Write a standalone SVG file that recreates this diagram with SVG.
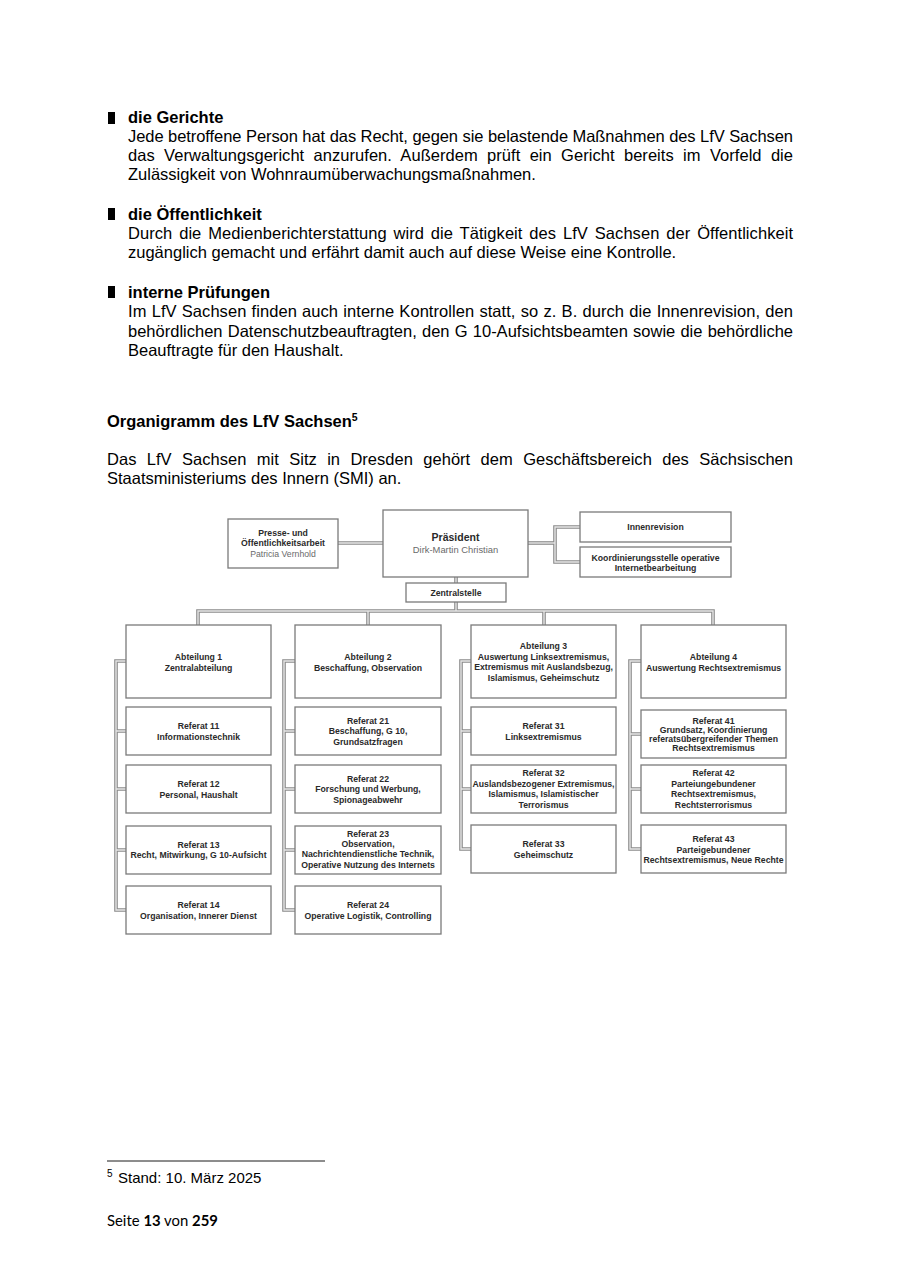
<svg xmlns="http://www.w3.org/2000/svg" width="900" height="1273" viewBox="0 0 900 1273">
<style>
.bg{fill:#fff}
.b{font-family:"Liberation Sans",Arial,sans-serif;font-size:16.5px;fill:#000}
.h{font-weight:bold}
.bul{fill:#000}
.bx{fill:#fff;stroke:#7a7a7a;stroke-width:1.3}
.t{font-family:"Liberation Sans",Arial,sans-serif;font-size:8.7px;font-weight:bold;fill:#2a2a2a;text-anchor:middle}
.g{font-weight:normal;fill:#6a6a6a}
.co{fill:none;stroke:#8a8a8a;stroke-width:3.6}
.ci{fill:none;stroke:#e6e6e6;stroke-width:1.4}
.ft{font-family:Lato,"Open Sans",sans-serif;font-size:15.5px;fill:#000}
</style>
<rect class="bg" x="0" y="0" width="900" height="1273"/>

<g id="text">
<rect class="bul" x="108" y="112" width="7" height="12"/>
<text class="b h" x="128" y="123">die Gerichte</text>
<text class="b" x="128" y="141.5" textLength="665" lengthAdjust="spacing">Jede betroffene Person hat das Recht, gegen sie belastende Maßnahmen des LfV Sachsen</text>
<text class="b" x="128" y="161" style="word-spacing:4.7px" textLength="665" lengthAdjust="spacing">das Verwaltungsgericht anzurufen. Außerdem prüft ein Gericht bereits im Vorfeld die</text>
<text class="b" x="128" y="180">Zulässigkeit von Wohnraumüberwachungsmaßnahmen.</text>

<rect class="bul" x="108" y="208" width="7" height="12"/>
<text class="b h" x="128" y="219.5">die Öffentlichkeit</text>
<text class="b" x="128" y="239" style="word-spacing:2.2px" textLength="665" lengthAdjust="spacing">Durch die Medienberichterstattung wird die Tätigkeit des LfV Sachsen der Öffentlichkeit</text>
<text class="b" x="128" y="258">zugänglich gemacht und erfährt damit auch auf diese Weise eine Kontrolle.</text>

<rect class="bul" x="108" y="286" width="7" height="12"/>
<text class="b h" x="128" y="297.5">interne Prüfungen</text>
<text class="b" x="128" y="317" style="word-spacing:0.6px" textLength="665" lengthAdjust="spacing">Im LfV Sachsen finden auch interne Kontrollen statt, so z. B. durch die Innenrevision, den</text>
<text class="b" x="128" y="336.5" style="word-spacing:0.6px" textLength="665" lengthAdjust="spacing">behördlichen Datenschutzbeauftragten, den G 10-Aufsichtsbeamten sowie die behördliche</text>
<text class="b" x="128" y="356">Beauftragte für den Haushalt.</text>

<text class="b h" x="107" y="426.5">Organigramm des LfV Sachsen<tspan style="font-size:10.5px" dy="-6">5</tspan></text>
<text class="b" x="107" y="464.5" style="word-spacing:5.8px" textLength="686" lengthAdjust="spacing">Das LfV Sachsen mit Sitz in Dresden gehört dem Geschäftsbereich des Sächsischen</text>
<text class="b" x="107" y="483.5">Staatsministeriums des Innern (SMI) an.</text>

<line x1="107" y1="1161" x2="325" y2="1161" stroke="#000" stroke-width="0.9"/>
<text class="b" x="107" y="1177" style="font-size:10px">5</text>
<text class="b" x="118" y="1183" style="font-size:15px">Stand: 10. März 2025</text>
<text class="ft" x="107" y="1226" textLength="111" lengthAdjust="spacingAndGlyphs">Seite <tspan font-weight="bold">13</tspan> von <tspan font-weight="bold">259</tspan></text>
</g>

<g id="connectors">
<g class="co">
<path d="M338,543 H383"/>
<path d="M528,543 H555"/>
<path d="M580,527 H555 V562 H580"/>
<path d="M456,577 V583"/>
<path d="M456,602 V611"/>
<path d="M198,625 V611 H713 V625"/>
<path d="M368,611 V625"/>
<path d="M544,611 V625"/>
<path d="M126,661 H116 V910 H126 M116,731 H126 M116,789 H126 M116,850 H126"/>
<path d="M295,661 H284 V910 H295 M284,731 H295 M284,789 H295 M284,850 H295"/>
<path d="M471,661 H461 V849 H471 M461,731 H471 M461,789 H471"/>
<path d="M641,661 H630 V849 H641 M630,734 H641 M630,789 H641"/>
</g>
<g class="ci">
<path d="M338,543 H383"/>
<path d="M528,543 H555"/>
<path d="M580,527 H555 V562 H580"/>
<path d="M456,577 V583"/>
<path d="M456,602 V611"/>
<path d="M198,625 V611 H713 V625"/>
<path d="M368,611 V625"/>
<path d="M544,611 V625"/>
<path d="M126,661 H116 V910 H126 M116,731 H126 M116,789 H126 M116,850 H126"/>
<path d="M295,661 H284 V910 H295 M284,731 H295 M284,789 H295 M284,850 H295"/>
<path d="M471,661 H461 V849 H471 M461,731 H471 M461,789 H471"/>
<path d="M641,661 H630 V849 H641 M630,734 H641 M630,789 H641"/>
</g>
</g>

<g id="presse"><rect class="bx" x="228" y="519" width="110" height="49"/>
<text class="t" x="283" y="536">Presse- und</text>
<text class="t" x="283" y="546">Öffentlichkeitsarbeit</text>
<text class="t g" x="283" y="557">Patricia Vernhold</text></g>

<g id="praesident"><rect class="bx" x="383" y="510" width="145" height="67"/>
<text class="t" x="455.5" y="540.5" style="font-size:10.5px">Präsident</text>
<text class="t g" x="455.5" y="553" style="font-size:9.4px">Dirk-Martin Christian</text></g>

<g id="innenrevision"><rect class="bx" x="580" y="512" width="151" height="30"/>
<text class="t" x="655.5" y="530">Innenrevision</text></g>

<g id="koordinierung"><rect class="bx" x="580" y="547" width="151" height="30"/>
<text class="t" x="655.5" y="561">Koordinierungsstelle operative</text>
<text class="t" x="655.5" y="570.5">Internetbearbeitung</text></g>

<g id="zentralstelle"><rect class="bx" x="406" y="583" width="100" height="19"/>
<text class="t" x="456" y="595.5">Zentralstelle</text></g>

<g id="abt1"><rect class="bx" x="126" y="625" width="145" height="73"/>
<text class="t" x="198.5" y="660">Abteilung 1</text>
<text class="t" x="198.5" y="670.5">Zentralabteilung</text></g>

<g id="abt2"><rect class="bx" x="295" y="625" width="146" height="73"/>
<text class="t" x="368" y="660">Abteilung 2</text>
<text class="t" x="368" y="670.5">Beschaffung, Observation</text></g>

<g id="abt3"><rect class="bx" x="471" y="625" width="145" height="73"/>
<text class="t" x="543.5" y="649">Abteilung 3</text>
<text class="t" x="543.5" y="659.5">Auswertung Linksextremismus,</text>
<text class="t" x="543.5" y="670">Extremismus mit Auslandsbezug,</text>
<text class="t" x="543.5" y="680.5">Islamismus, Geheimschutz</text></g>

<g id="abt4"><rect class="bx" x="641" y="625" width="145" height="73"/>
<text class="t" x="713.5" y="660">Abteilung 4</text>
<text class="t" x="713.5" y="670.5">Auswertung Rechtsextremismus</text></g>

<g id="ref11"><rect class="bx" x="126" y="707" width="145" height="48"/>
<text class="t" x="198.5" y="729">Referat 11</text>
<text class="t" x="198.5" y="739.5">Informationstechnik</text></g>

<g id="ref21"><rect class="bx" x="295" y="707" width="146" height="48"/>
<text class="t" x="368" y="723.5">Referat 21</text>
<text class="t" x="368" y="734">Beschaffung, G 10,</text>
<text class="t" x="368" y="744.5">Grundsatzfragen</text></g>

<g id="ref31"><rect class="bx" x="471" y="707" width="145" height="48"/>
<text class="t" x="543.5" y="729">Referat 31</text>
<text class="t" x="543.5" y="739.5">Linksextremismus</text></g>

<g id="ref41"><rect class="bx" x="641" y="710" width="145" height="48"/>
<text class="t" x="713.5" y="724">Referat 41</text>
<text class="t" x="713.5" y="733">Grundsatz, Koordinierung</text>
<text class="t" x="713.5" y="742">referatsübergreifender Themen</text>
<text class="t" x="713.5" y="751">Rechtsextremismus</text></g>

<g id="ref12"><rect class="bx" x="126" y="765" width="145" height="48"/>
<text class="t" x="198.5" y="787">Referat 12</text>
<text class="t" x="198.5" y="797.5">Personal, Haushalt</text></g>

<g id="ref22"><rect class="bx" x="295" y="765" width="146" height="48"/>
<text class="t" x="368" y="781.5">Referat 22</text>
<text class="t" x="368" y="792">Forschung und Werbung,</text>
<text class="t" x="368" y="802.5">Spionageabwehr</text></g>

<g id="ref32"><rect class="bx" x="471" y="765" width="145" height="48"/>
<text class="t" x="543.5" y="776">Referat 32</text>
<text class="t" x="543.5" y="786.5">Auslandsbezogener Extremismus,</text>
<text class="t" x="543.5" y="797">Islamismus, Islamistischer</text>
<text class="t" x="543.5" y="807.5">Terrorismus</text></g>

<g id="ref42"><rect class="bx" x="641" y="765" width="145" height="48"/>
<text class="t" x="713.5" y="776">Referat 42</text>
<text class="t" x="713.5" y="786.5">Parteiungebundener</text>
<text class="t" x="713.5" y="797">Rechtsextremismus,</text>
<text class="t" x="713.5" y="807.5">Rechtsterrorismus</text></g>

<g id="ref13"><rect class="bx" x="126" y="826" width="145" height="48"/>
<text class="t" x="198.5" y="847.5">Referat 13</text>
<text class="t" x="198.5" y="858">Recht, Mitwirkung, G 10-Aufsicht</text></g>

<g id="ref23"><rect class="bx" x="295" y="826" width="146" height="48"/>
<text class="t" x="368" y="836.5">Referat 23</text>
<text class="t" x="368" y="846.5">Observation,</text>
<text class="t" x="368" y="857">Nachrichtendienstliche Technik,</text>
<text class="t" x="368" y="867.5">Operative Nutzung des Internets</text></g>

<g id="ref33"><rect class="bx" x="471" y="825" width="145" height="48"/>
<text class="t" x="543.5" y="847">Referat 33</text>
<text class="t" x="543.5" y="857.5">Geheimschutz</text></g>

<g id="ref43"><rect class="bx" x="641" y="825" width="145" height="48"/>
<text class="t" x="713.5" y="842">Referat 43</text>
<text class="t" x="713.5" y="852.5">Parteigebundener</text>
<text class="t" x="713.5" y="863">Rechtsextremismus, Neue Rechte</text></g>

<g id="ref14"><rect class="bx" x="126" y="886" width="145" height="48"/>
<text class="t" x="198.5" y="908">Referat 14</text>
<text class="t" x="198.5" y="918.5">Organisation, Innerer Dienst</text></g>

<g id="ref24"><rect class="bx" x="295" y="886" width="146" height="48"/>
<text class="t" x="368" y="908">Referat 24</text>
<text class="t" x="368" y="918.5">Operative Logistik, Controlling</text></g>
</svg>
